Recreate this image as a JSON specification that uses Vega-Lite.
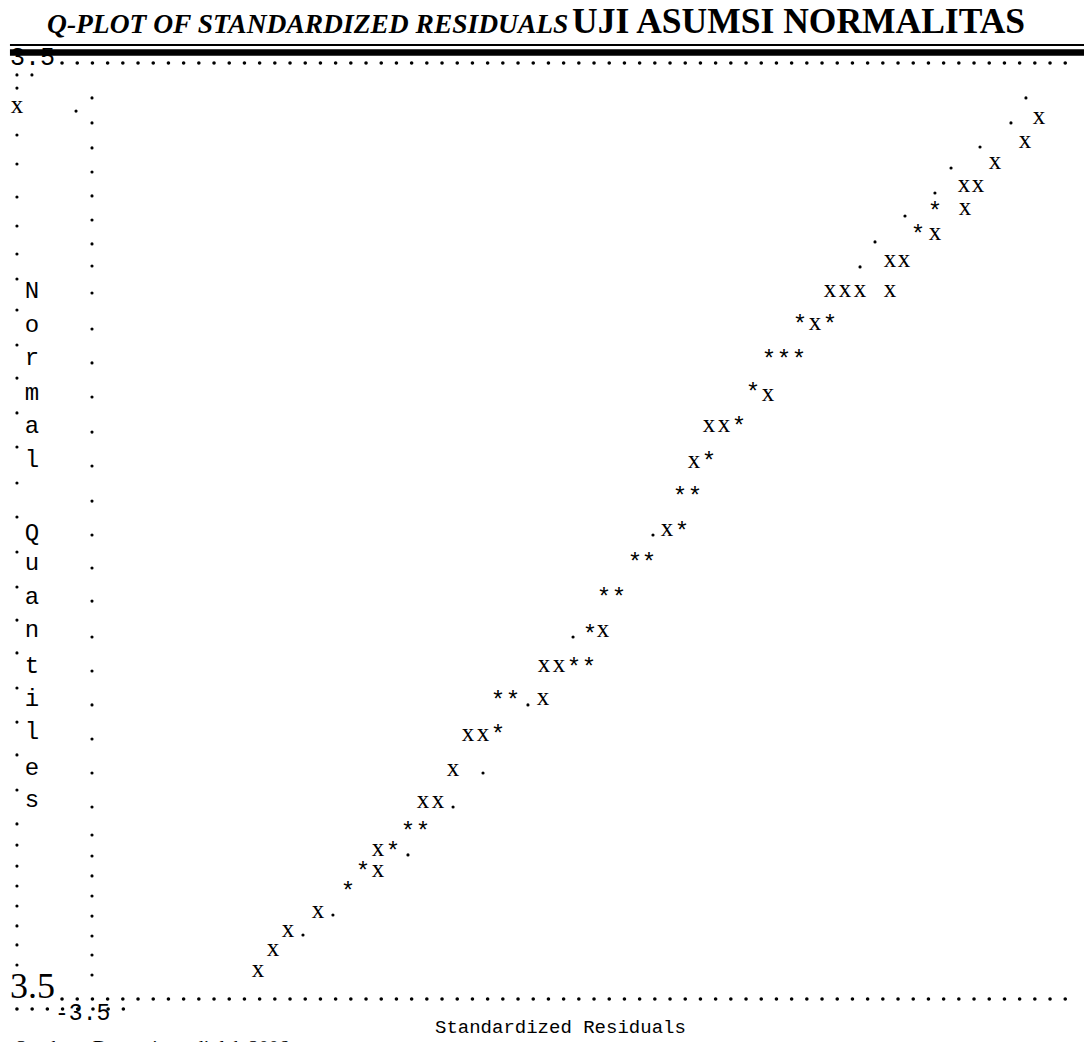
{
  "$schema": "https://vega.github.io/schema/vega-lite/v6.json",
  "width": 1084,
  "height": 1042,
  "autosize": {"type": "none"},
  "padding": 0,
  "background": "white",
  "config": {"view": {"stroke": null}},
  "datasets": {
    "dots": [
      {"r": -4.036, "q": 3.411}, {"r": -4.036, "q": 3.313}, {"r": -4.036, "q": 2.962}, {"r": -4.036, "q": 2.745},
      {"r": -4.036, "q": 2.498}, {"r": -4.036, "q": 2.281}, {"r": -4.036, "q": 2.072}, {"r": -4.036, "q": 1.885},
      {"r": -4.036, "q": 1.653}, {"r": -4.036, "q": 1.391}, {"r": -4.036, "q": 1.144}, {"r": -4.036, "q": 0.883},
      {"r": -4.036, "q": 0.628}, {"r": -4.036, "q": 0.359}, {"r": -4.036, "q": 0.105}, {"r": -4.036, "q": -0.157},
      {"r": -4.036, "q": -0.419}, {"r": -4.036, "q": -0.666}, {"r": -4.036, "q": -0.912}, {"r": -4.036, "q": -1.174},
      {"r": -4.036, "q": -1.429}, {"r": -4.036, "q": -1.675}, {"r": -4.036, "q": -1.937}, {"r": -4.036, "q": -2.191},
      {"r": -4.036, "q": -2.349}, {"r": -4.036, "q": -2.506}, {"r": -4.036, "q": -2.655}, {"r": -4.036, "q": -2.805},
      {"r": -4.036, "q": -2.954}, {"r": -4.036, "q": -3.096}, {"r": -4.036, "q": -3.246},
      {"r": -3.929, "q": 3.411}, {"r": -3.614, "q": 3.141},
      {"r": -3.5, "q": 3.239}, {"r": -3.5, "q": 3.052}, {"r": -3.5, "q": 2.865}, {"r": -3.5, "q": 2.685},
      {"r": -3.5, "q": 2.506}, {"r": -3.5, "q": 2.326}, {"r": -3.5, "q": 2.147}, {"r": -3.5, "q": 1.982},
      {"r": -3.5, "q": 1.78}, {"r": -3.5, "q": 1.511}, {"r": -3.5, "q": 1.257}, {"r": -3.5, "q": 1.002},
      {"r": -3.5, "q": 0.74}, {"r": -3.5, "q": 0.486}, {"r": -3.5, "q": 0.224}, {"r": -3.5, "q": -0.03},
      {"r": -3.5, "q": -0.277}, {"r": -3.5, "q": -0.524}, {"r": -3.5, "q": -0.793}, {"r": -3.5, "q": -1.047},
      {"r": -3.5, "q": -1.301}, {"r": -3.5, "q": -1.556}, {"r": -3.5, "q": -1.81}, {"r": -3.5, "q": -2.064},
      {"r": -3.5, "q": -2.274}, {"r": -3.5, "q": -2.431}, {"r": -3.5, "q": -2.58}, {"r": -3.5, "q": -2.73},
      {"r": -3.5, "q": -2.88}, {"r": -3.5, "q": -3.029}, {"r": -3.5, "q": -3.171}, {"r": -3.5, "q": -3.321},
      {"r": 3.171, "q": 3.239}, {"r": 3.064, "q": 3.052}, {"r": 2.843, "q": 2.872}, {"r": 2.636, "q": 2.715},
      {"r": 2.521, "q": 2.528}, {"r": 2.307, "q": 2.356}, {"r": 2.093, "q": 2.162}, {"r": 1.986, "q": 1.975},
      {"r": 0.507, "q": -0.03}, {"r": -0.064, "q": -0.793}, {"r": -0.386, "q": -1.301}, {"r": -0.707, "q": -1.81},
      {"r": -0.921, "q": -2.064}, {"r": -1.243, "q": -2.423}, {"r": -1.779, "q": -2.872}, {"r": -1.993, "q": -3.022}
    ],
    "xs": [
      {"r": 3.264, "q": 3.082}, {"r": 3.164, "q": 2.909}, {"r": 2.95, "q": 2.752}, {"r": 2.729, "q": 2.573},
      {"r": 2.829, "q": 2.573}, {"r": 2.736, "q": 2.401}, {"r": 2.521, "q": 2.214}, {"r": 2.2, "q": 2.012},
      {"r": 2.3, "q": 2.012}, {"r": 1.771, "q": 1.795}, {"r": 1.879, "q": 1.795}, {"r": 1.986, "q": 1.795},
      {"r": 2.2, "q": 1.795}, {"r": 1.664, "q": 1.541}, {"r": 1.329, "q": 1.017}, {"r": 0.907, "q": 0.778},
      {"r": 1.014, "q": 0.778}, {"r": 0.8, "q": 0.516}, {"r": 0.607, "q": 0.007}, {"r": 0.15, "q": -0.755},
      {"r": -0.271, "q": -1.017}, {"r": -0.164, "q": -1.017}, {"r": -0.279, "q": -1.264}, {"r": -0.814, "q": -1.526},
      {"r": -0.707, "q": -1.526}, {"r": -0.921, "q": -1.788}, {"r": -1.136, "q": -2.027}, {"r": -1.029, "q": -2.027},
      {"r": -1.457, "q": -2.386}, {"r": -1.457, "q": -2.55}, {"r": -1.886, "q": -2.857}, {"r": -2.1, "q": -2.999},
      {"r": -2.207, "q": -3.141}, {"r": -2.314, "q": -3.291}, {"r": -4.036, "q": 3.164}
    ],
    "stars": [
      {"r": 2.4, "q": 2.251}, {"r": 2.521, "q": 2.423}, {"r": 1.557, "q": 1.578}, {"r": 1.771, "q": 1.578},
      {"r": 1.336, "q": 1.316}, {"r": 1.443, "q": 1.316}, {"r": 1.55, "q": 1.316}, {"r": 1.221, "q": 1.07},
      {"r": 1.121, "q": 0.815}, {"r": 0.907, "q": 0.553}, {"r": 0.7, "q": 0.292}, {"r": 0.807, "q": 0.292},
      {"r": 0.714, "q": 0.03}, {"r": 0.379, "q": -0.202}, {"r": 0.479, "q": -0.202}, {"r": 0.157, "q": -0.464},
      {"r": 0.264, "q": -0.464}, {"r": 0.057, "q": -0.74}, {"r": -0.057, "q": -0.987}, {"r": 0.05, "q": -0.987},
      {"r": -0.6, "q": -1.234}, {"r": -0.493, "q": -1.234}, {"r": -0.6, "q": -1.488}, {"r": -1.243, "q": -2.214},
      {"r": -1.136, "q": -2.214}, {"r": -1.35, "q": -2.363}, {"r": -1.564, "q": -2.513}, {"r": -1.671, "q": -2.663}
    ],
    "ylab": [
      {"ch": "N", "r": -3.929, "q": 1.743}, {"ch": "o", "r": -3.929, "q": 1.488}, {"ch": "r", "r": -3.929, "q": 1.242},
      {"ch": "m", "r": -3.929, "q": 0.98}, {"ch": "a", "r": -3.929, "q": 0.733}, {"ch": "l", "r": -3.929, "q": 0.479},
      {"ch": "Q", "r": -3.929, "q": -0.067}, {"ch": "u", "r": -3.929, "q": -0.292}, {"ch": "a", "r": -3.929, "q": -0.546},
      {"ch": "n", "r": -3.929, "q": -0.793}, {"ch": "t", "r": -3.929, "q": -1.062}, {"ch": "i", "r": -3.929, "q": -1.309},
      {"ch": "l", "r": -3.929, "q": -1.556}, {"ch": "e", "r": -3.929, "q": -1.825}, {"ch": "s", "r": -3.929, "q": -2.064}
    ]
  },
  "encoding": {
    "x": {"field": "r", "type": "quantitative", "scale": {"domain": [-4.1571, 3.5857], "nice": false, "zero": false}, "axis": null},
    "y": {"field": "q", "type": "quantitative", "scale": {"domain": [-3.822, 3.9716], "nice": false, "zero": false}, "axis": null}
  },
  "layer": [
    {
      "data": {"values": [{"txt": "3.5", "r": -4.086, "q": 3.485}]},
      "mark": {"type": "text", "font": "Liberation Mono", "fontSize": 25, "align": "left", "baseline": "alphabetic", "color": "black"},
      "encoding": {"text": {"field": "txt"}}
    },
    {
      "data": {"values": [{"r": -4.086, "r2": 3.5857, "q": 3.635}]},
      "mark": {"type": "rule", "strokeWidth": 2, "color": "black"},
      "encoding": {"x2": {"field": "r2"}}
    },
    {
      "data": {"values": [{"r": -4.086, "r2": 3.5857, "q": 3.579}]},
      "mark": {"type": "rule", "strokeWidth": 6.4, "color": "black"},
      "encoding": {"x2": {"field": "r2"}}
    },
    {
      "data": {"values": [
        {"r": -3.714, "r2": 3.457, "q": 3.5},
        {"r": -3.714, "r2": 3.457, "q": -3.5},
        {"r": -4.036, "r2": -3.271, "q": -3.575}
      ]},
      "mark": {"type": "rule", "strokeWidth": 3.6, "strokeCap": "round", "strokeDash": [0, 15.2], "color": "black"},
      "encoding": {"x2": {"field": "r2"}}
    },
    {
      "data": {"name": "dots"},
      "mark": {"type": "circle", "size": 10, "color": "black", "opacity": 1},
      "encoding": {}
    },
    {
      "data": {"name": "xs"},
      "mark": {"type": "text", "text": "x", "font": "Liberation Serif", "fontSize": 25, "align": "center", "baseline": "alphabetic", "dy": 5.5, "color": "black"},
      "encoding": {}
    },
    {
      "data": {"name": "stars"},
      "mark": {"type": "text", "text": "*", "font": "Liberation Mono", "fontSize": 24, "align": "center", "baseline": "alphabetic", "dy": 12, "color": "black"},
      "encoding": {}
    },
    {
      "data": {"name": "ylab"},
      "mark": {"type": "text", "font": "Liberation Mono", "fontSize": 24, "align": "center", "baseline": "alphabetic", "color": "black"},
      "encoding": {"text": {"field": "ch"}}
    },
    {
      "data": {"values": [{"txt": "Standardized Residuals", "r": -1.05, "q": -3.755}]},
      "mark": {"type": "text", "font": "Liberation Mono", "fontSize": 19, "align": "left", "baseline": "alphabetic", "color": "black"},
      "encoding": {"text": {"field": "txt"}}
    },
    {
      "data": {"values": [{"txt": "-3.5", "r": -3.764, "q": -3.657}]},
      "mark": {"type": "text", "font": "Liberation Mono", "fontSize": 23, "align": "left", "baseline": "alphabetic", "color": "black"},
      "encoding": {"text": {"field": "txt"}}
    },
    {
      "data": {"values": [{"txt": "3.5", "r": -4.086, "q": -3.493}]},
      "mark": {"type": "text", "font": "Liberation Serif", "fontSize": 36, "align": "left", "baseline": "alphabetic", "color": "black"},
      "encoding": {"text": {"field": "txt"}}
    },
    {
      "data": {"values": [{"txt": "Q-PLOT OF STANDARDIZED RESIDUALS", "r": -3.821, "q": 3.725}]},
      "mark": {"type": "text", "font": "Liberation Serif", "fontSize": 27.5, "fontWeight": "bold", "fontStyle": "italic", "align": "left", "baseline": "alphabetic", "color": "black"},
      "encoding": {"text": {"field": "txt"}}
    },
    {
      "data": {"values": [{"txt": "UJI ASUMSI NORMALITAS", "r": -0.071, "q": 3.725}]},
      "mark": {"type": "text", "font": "Liberation Serif", "fontSize": 35.5, "fontWeight": "bold", "align": "left", "baseline": "alphabetic", "color": "black"},
      "encoding": {"text": {"field": "txt"}}
    },
    {
      "data": {"values": [{"txt": "Sumber : Data primer diolah 2006", "r": -4.05, "q": -3.919}]},
      "mark": {"type": "text", "font": "Liberation Serif", "fontSize": 20, "align": "left", "baseline": "alphabetic", "color": "black"},
      "encoding": {"text": {"field": "txt"}}
    }
  ]
}
